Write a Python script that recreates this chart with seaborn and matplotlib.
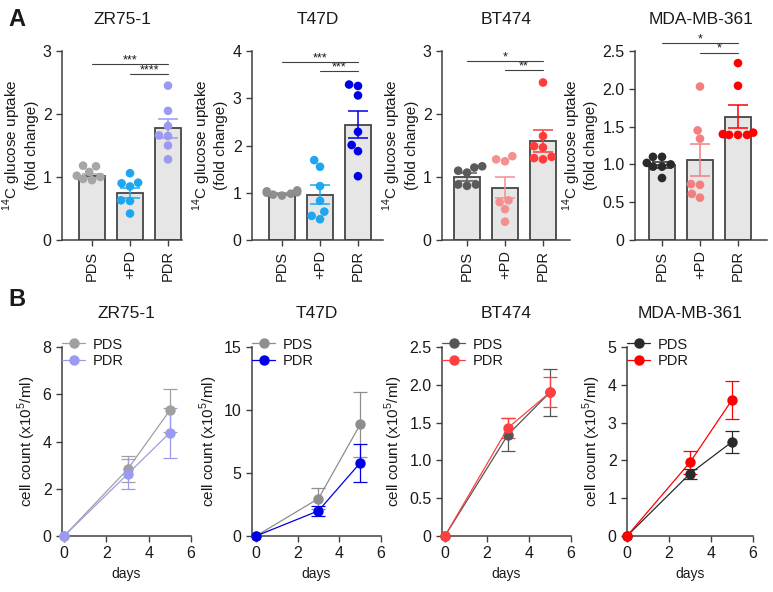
import warnings
warnings.filterwarnings('ignore')
import numpy as np
import pandas as pd
import matplotlib
matplotlib.use('Agg')
import matplotlib.pyplot as plt
import seaborn as sns

# ---------------- data ----------------
cell_lines = ['ZR75-1', 'T47D', 'BT474', 'MDA-MB-361']
groups = ['PDS', '+PD', 'PDR']

# Panel A: 14C glucose uptake (fold change), individual points
zr_points = {'PDS': [1.18, 1.17, 1.08, 1.02, 1.00, 0.97, 0.95],
             '+PD': [1.06, 0.91, 0.90, 0.85, 0.63, 0.62, 0.42],
             'PDR': [2.45, 2.05, 1.81, 1.66, 1.65, 1.50, 1.28]}
t47_points = {'PDS': [1.05, 1.03, 1.01, 1.00, 0.98, 0.96, 0.94],
              '+PD': [1.69, 1.55, 1.14, 0.83, 0.60, 0.51, 0.44],
              'PDR': [3.29, 3.26, 3.06, 2.29, 2.01, 1.88, 1.35]}
bt_points = {'PDS': [1.17, 1.15, 1.10, 1.07, 0.88, 0.88, 0.86],
             '+PD': [1.33, 1.28, 1.25, 0.63, 0.60, 0.49, 0.29],
             'PDR': [2.50, 1.65, 1.49, 1.47, 1.32, 1.30, 1.28]}
mda_points = {'PDS': [1.10, 1.10, 1.02, 1.00, 0.97, 0.97, 0.82],
              '+PD': [2.03, 1.45, 1.34, 0.74, 0.73, 0.61, 0.56],
              'PDR': [2.34, 2.04, 1.42, 1.40, 1.39, 1.39, 1.39]}

zr_means, zr_sem = [1.02, 0.75, 1.77], [0.03, 0.08, 0.15]
t47_means, t47_sem = [0.98, 0.96, 2.44], [0.02, 0.20, 0.29]
bt_means, bt_sem = [1.00, 0.83, 1.57], [0.06, 0.17, 0.17]
mda_means, mda_sem = [0.99, 1.06, 1.63], [0.04, 0.21, 0.15]

# significance brackets: (from group, to group, y, label)
zr_sig = [(0, 2, 2.79, '***'), (1, 2, 2.63, '****')]
t47_sig = [(0, 2, 3.77, '***'), (1, 2, 3.57, '***')]
bt_sig = [(0, 2, 2.84, '*'), (1, 2, 2.70, '**')]
mda_sig = [(0, 2, 2.60, '*'), (1, 2, 2.48, '*')]

a_yticks = [[0, 1, 2, 3], [0, 1, 2, 3, 4], [0, 1, 2, 3], [0, 0.5, 1.0, 1.5, 2.0, 2.5]]
a_yticklabels = [['0', '1', '2', '3'], ['0', '1', '2', '3', '4'], ['0', '1', '2', '3'],
                 ['0', '0.5', '1.0', '1.5', '2.0', '2.5']]

# Panel B: cell count (x10^5/ml)
days = [0, 3, 5]
zr_pds, zr_pds_err = [0, 2.82, 5.32], [0, 0.55, 0.92]
zr_pdr, zr_pdr_err = [0, 2.62, 4.37], [0, 0.65, 1.05]
t47_pds, t47_pds_err = [0, 2.97, 8.85], [0, 0.85, 2.60]
t47_pdr, t47_pdr_err = [0, 2.00, 5.80], [0, 0.40, 1.50]
bt_pds, bt_pds_err = [0, 1.34, 1.90], [0, 0.22, 0.31]
bt_pdr, bt_pdr_err = [0, 1.43, 1.90], [0, 0.13, 0.20]
mda_pds, mda_pds_err = [0, 1.65, 2.49], [0, 0.13, 0.30]
mda_pdr, mda_pdr_err = [0, 1.95, 3.60], [0, 0.30, 0.50]

b_yticks = [[0, 2, 4, 6, 8], [0, 5, 10, 15], [0, 0.5, 1.0, 1.5, 2.0, 2.5], [0, 1, 2, 3, 4, 5]]
b_yticklabels = [['0', '2', '4', '6', '8'], ['0', '5', '10', '15'],
                 ['0', '0.5', '1.0', '1.5', '2.0', '2.5'], ['0', '1', '2', '3', '4', '5']]
x_ticks = [0, 2, 4, 6]

# ---------------- style ----------------
a_colors = [['#a6a6a6', '#1ea7f0', '#9a9af0'],
            ['#8e8e8e', '#1ea7f0', '#0000e6'],
            ['#5a5a5a', '#f49090', '#ff3b3b'],
            ['#2a2a2a', '#f47f7f', '#ff0000']]
b_colors = [['#a0a0a0', '#9a9af0'], ['#8e8e8e', '#0000e6'],
            ['#555555', '#ff4040'], ['#2a2a2a', '#ff0000']]

sns.set_style('ticks')
plt.rcParams['font.family'] = ['Liberation Sans', 'DejaVu Sans']
plt.rcParams['mathtext.fontset'] = 'custom'
plt.rcParams['mathtext.rm'] = 'Liberation Sans'
plt.rcParams['axes.edgecolor'] = '#404040'
plt.rcParams['xtick.color'] = '#404040'
plt.rcParams['ytick.color'] = '#404040'
plt.rcParams['xtick.labelcolor'] = '#1a1a1a'
plt.rcParams['ytick.labelcolor'] = '#1a1a1a'
plt.rcParams['text.color'] = '#1a1a1a'
plt.rcParams['axes.labelcolor'] = '#1a1a1a'

W, H = 773, 592
fig = plt.figure(figsize=(W / 100, H / 100), dpi=100)


def add_ax(l, r, t, b):
    return fig.add_axes([l / W, 1 - b / H, (r - l) / W, (b - t) / H])


# pixel layout of the top row (left, right) and first-bar centre
a_layout = [(62, 182, 92), (252, 383, 282), (442, 570, 467), (635, 767, 662)]
spacing = 38.0
b_layout = [(62, 191, -0.10), (252, 381, -0.19), (442, 571, -0.14), (627, 753, 0.0)]

a_points = [zr_points, t47_points, bt_points, mda_points]
a_means = [zr_means, t47_means, bt_means, mda_means]
a_sems = [zr_sem, t47_sem, bt_sem, mda_sem]
a_sigs = [zr_sig, t47_sig, bt_sig, mda_sig]

for k in range(4):
    l, r, c0 = a_layout[k]
    ax = add_ax(l, r, 51, 240)
    pts = a_points[k]
    df = pd.DataFrame([(g, v) for g in groups for v in pts[g]], columns=['group', 'value'])
    sns.barplot(x=groups, y=a_means[k], order=groups, color='#e6e6e6', edgecolor='#454545',
                linewidth=1.3, width=0.66, errorbar=None, ax=ax, zorder=1)
    sns.swarmplot(data=df, x='group', y='value', hue='group', order=groups, hue_order=groups,
                  palette=a_colors[k], size=6.2, linewidth=0, legend=False, ax=ax, zorder=3)
    for i in range(3):
        ax.errorbar([i], [a_means[k][i]], yerr=[a_sems[k][i]], fmt='none',
                    ecolor=a_colors[k][i], elinewidth=1.1, capsize=7, capthick=1.1, zorder=4)
    for (i, j, y, lab) in a_sigs[k]:
        ax.plot([i, j], [y, y], color='#404040', lw=0.8, clip_on=False, zorder=5)
        ax.annotate(lab, xy=((i + j) / 2, y), xytext=(0, -1.5), textcoords='offset points',
                    ha='center', va='bottom', fontsize=9, annotation_clip=False)
    ax.set_xlim(-(c0 - l) / spacing, (r - c0) / spacing)
    ax.set_ylim(a_yticks[k][0], a_yticks[k][-1])
    ax.set_yticks(a_yticks[k])
    ax.set_yticklabels(a_yticklabels[k], fontsize=11.5)
    ax.set_xticks(range(3))
    ax.set_xticklabels(groups, rotation=90, fontsize=10.5)
    ax.tick_params(axis='both', length=4, width=1)
    ax.set_xlabel('')
    ax.set_ylabel('$^{14}$C glucose uptake\n(fold change)', fontsize=11, labelpad=3, linespacing=1.1)
    for s in ['top', 'right']:
        ax.spines[s].set_visible(False)
    for s in ['left', 'bottom']:
        ax.spines[s].set_linewidth(1.1)
    fig.text((l + r) / 2 / W, 1 - 20 / H, cell_lines[k], ha='center', va='center', fontsize=12.5)

b_pds = [zr_pds, t47_pds, bt_pds, mda_pds]
b_pds_err = [zr_pds_err, t47_pds_err, bt_pds_err, mda_pds_err]
b_pdr = [zr_pdr, t47_pdr, bt_pdr, mda_pdr]
b_pdr_err = [zr_pdr_err, t47_pdr_err, bt_pdr_err, mda_pdr_err]

for k in range(4):
    l, r, x0 = b_layout[k]
    ax = add_ax(l, r, 347, 536)
    series = [('PDS', b_pds[k], b_pds_err[k], b_colors[k][0]),
              ('PDR', b_pdr[k], b_pdr_err[k], b_colors[k][1])]
    for name, vals, errs, col in series:
        sns.lineplot(x=days, y=vals, color=col, marker='o', markersize=7.5, markeredgewidth=0,
                     lw=0.9, label=name, ax=ax, clip_on=False, zorder=3)
        ax.errorbar(days[1:], vals[1:], yerr=errs[1:], fmt='none', ecolor=col,
                    elinewidth=0.9, capsize=5, capthick=0.9, zorder=2)
    ax.set_xlim(x0, 6)
    ax.set_ylim(b_yticks[k][0], b_yticks[k][-1])
    ax.set_yticks(b_yticks[k])
    ax.set_yticklabels(b_yticklabels[k], fontsize=11.5)
    ax.set_xticks(x_ticks)
    ax.set_xticklabels([str(t) for t in x_ticks], fontsize=11.5)
    ax.tick_params(axis='both', length=4, width=1)
    ax.set_xlabel('days', fontsize=10)
    ax.set_ylabel('cell count (x10$^{5}$/ml)', fontsize=11, labelpad=3)
    for s in ['top', 'right']:
        ax.spines[s].set_visible(False)
    for s in ['left', 'bottom']:
        ax.spines[s].set_linewidth(1.1)
    ax.legend(loc='upper left', bbox_to_anchor=(0.0, 1.05), frameon=False, fontsize=10.5,
              handlelength=1.6, handletextpad=0.5, borderaxespad=0, borderpad=0,
              labelspacing=0.15)
    fig.text((l + r) / 2 / W, 1 - 313 / H, cell_lines[k], ha='center', va='center', fontsize=12.5)

fig.text(17 / W, 1 - 20 / H, 'A', ha='center', va='center', fontsize=17, fontweight='bold')
fig.text(17 / W, 1 - 299 / H, 'B', ha='center', va='center', fontsize=17, fontweight='bold')

fig.savefig('out.png', dpi=100)
